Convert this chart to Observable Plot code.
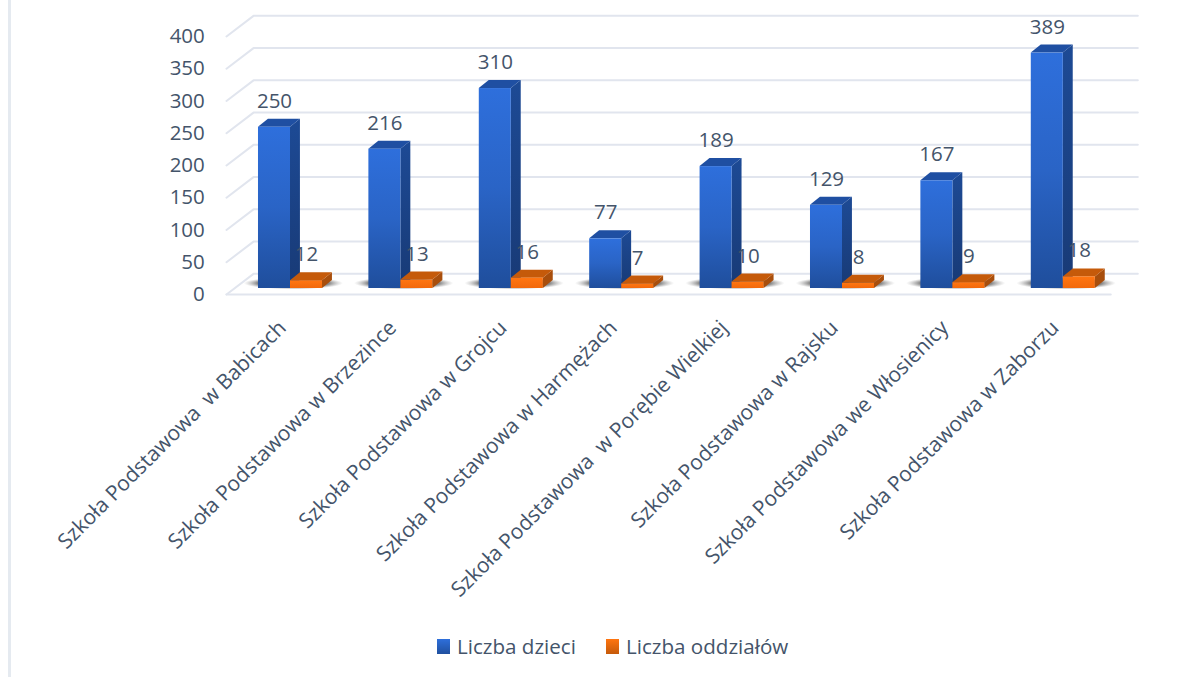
<!DOCTYPE html>
<html lang="pl">
<head>
<meta charset="utf-8">
<script src="https://cdn.jsdelivr.net/npm/d3@7"></script>
<script src="https://cdn.jsdelivr.net/npm/@observablehq/plot@0.6"></script>
<style>
  html, body { margin: 0; background: #fff; width: 1196px; height: 677px; overflow: hidden; }
  body { position: relative; font-family: "Open Sans", sans-serif; color: #44546A; }
  #edge { position: absolute; left: 8px; top: 0; bottom: 0; width: 2.5px; background: #E5EAF0; }
  #legend { display: flex; align-items: center; height: 52px; padding-left: 437px; font-size: 20.6px; box-sizing: border-box; }
  #legend .sw { width: 13px; height: 15px; margin-right: 7px; }
  #legend .lab { margin-right: 30px; }
  svg { display: block; }
</style>
</head>
<body>
<div id="edge"></div>
<div id="chart"></div>
<div id="legend">
  <span class="sw" style="background:linear-gradient(#2E6FDB,#20509F)"></span><span class="lab">Liczba dzieci</span>
  <span class="sw" style="background:linear-gradient(#FF7510,#C55A0A)"></span><span class="lab">Liczba oddziałów</span>
</div>
<script>
const categories = [
  "Szkoła Podstawowa  w Babicach",
  "Szkoła Podstawowa w Brzezince",
  "Szkoła Podstawowa w Grojcu",
  "Szkoła Podstawowa w Harmężach",
  "Szkoła Podstawowa  w Porębie Wielkiej",
  "Szkoła Podstawowa w Rajsku",
  "Szkoła Podstawowa we Włosienicy",
  "Szkoła Podstawowa w Zaborzu"
];
// Printed data labels
const dzieciLabels = [250, 216, 310, 77, 189, 129, 167, 389];
const oddzialyLabels = [12, 13, 16, 7, 10, 8, 9, 18];
// Heights as drawn in the picture (the last blue column stops near 365 although it is labelled 389)
const dzieciHeights = [250, 216, 310, 77, 189, 129, 167, 365];
const oddzialyHeights = [12, 13, 16, 7, 10, 8, 9, 18];
const yTicks = [0, 50, 100, 150, 200, 250, 300, 350, 400];

// Projection constants, in scale units
const barW = 0.29, barDX = 0.09, barDY = 12.4;
const wallDX = 0.245, frontY = -9.3, backY = 22.7, frontX0 = -0.58, frontX1 = 7.43;

function faces(heights, offset, prefix) {
  const front = [], side = [], top = [];
  heights.forEach((h, i) => {
    const a = i + offset, b = a + barW;
    front.push({ id: prefix + i, x1: a, x2: b, y1: 0, y2: h });
    side.push({ id: prefix + i, x: b, y1: 0, y2: h });
    side.push({ id: prefix + i, x: b + barDX, y1: barDY, y2: h + barDY });
    top.push({ id: prefix + i, x: a, y1: h, y2: h });
    top.push({ id: prefix + i, x: a + barDX, y1: h, y2: h + barDY });
    top.push({ id: prefix + i, x: b, y1: h, y2: h + barDY });
    top.push({ id: prefix + i, x: b + barDX, y1: h + barDY, y2: h + barDY });
  });
  return { front, side, top };
}
const blue = faces(dzieciHeights, -barW, "b");
const orange = faces(oddzialyHeights, 0, "o");

const gridRows = yTicks.flatMap(v => [
  { id: v, x: frontX0, y: v + frontY },
  { id: v, x: frontX0 + wallDX, y: v + backY },
  { id: v, x: frontX1 + wallDX, y: v + backY }
]);
const floorFront = [{ x: frontX0, y: frontY }, { x: frontX1, y: frontY }];
const shadows = categories.map((c, i) => ({ x1: i - 0.42, x2: i + 0.48, y1: -2, y2: 17 }));

function defs() {
  const grad = (id, stops) => `<linearGradient id="${id}" x1="0" y1="0" x2="0" y2="1">` +
    stops.map((s, k) => `<stop offset="${k / (stops.length - 1)}" stop-color="${s}"/>`).join("") + `</linearGradient>`;
  const g = d3.create("svg:g");
  g.html(`<defs>
    ${grad("blueFront", ["#2E6FDC", "#2A64C6", "#1F4E9C"])}
    ${grad("blueSide", ["#1D4A95", "#183A76"])}
    ${grad("orangeFront", ["#FF7612", "#F2690C"])}
    <radialGradient id="floorShadow"><stop offset="0" stop-color="#444" stop-opacity=".95"/><stop offset=".72" stop-color="#555" stop-opacity=".7"/><stop offset="1" stop-color="#999" stop-opacity="0"/></radialGradient>
  </defs>`);
  return g.node();
}

const plot = Plot.plot({
  width: 1196,
  height: 620,
  marginLeft: 234.8,
  marginRight: 78,
  marginTop: 30,
  marginBottom: 332,
  x: { domain: [-0.5, 7.5] },
  y: { domain: [0, 400] },
  style: { fontFamily: "Open Sans", color: "#44546A", background: "transparent", overflow: "visible" },
  marks: [
    defs,
    Plot.line(gridRows, { x: "x", y: "y", z: "id", stroke: "#E1E5EE", strokeWidth: 2 }),
    Plot.line(floorFront, { x: "x", y: "y", stroke: "#E1E5EE", strokeWidth: 2 }),
    Plot.rect(shadows, { x1: "x1", x2: "x2", y1: "y1", y2: "y2", fill: "url(#floorShadow)" }),

    Plot.area(blue.side, { x1: "x", y1: "y1", y2: "y2", z: "id", fill: "url(#blueSide)" }),
    Plot.area(blue.top, { x1: "x", y1: "y1", y2: "y2", z: "id", fill: "#1F4FA2" }),
    Plot.rect(blue.front, { x1: "x1", x2: "x2", y1: "y1", y2: "y2", fill: "url(#blueFront)", inset: 0 }),

    Plot.area(orange.side, { x1: "x", y1: "y1", y2: "y2", z: "id", fill: "#A84E0C" }),
    Plot.area(orange.top, { x1: "x", y1: "y1", y2: "y2", z: "id", fill: "#C55A0A" }),
    Plot.rect(orange.front, { x1: "x1", x2: "x2", y1: "y1", y2: "y2", fill: "url(#orangeFront)", inset: 0 }),

    Plot.text(categories.map((c, i) => i), {
      x: i => i - barW / 2, y: i => dzieciHeights[i], text: i => String(dzieciLabels[i]),
      dy: -26, fontSize: 20.5, fill: "#44546A"
    }),
    Plot.text(categories.map((c, i) => i), {
      x: i => i + barW / 2, y: i => oddzialyHeights[i], text: i => String(oddzialyLabels[i]),
      dy: -26, fontSize: 20.5, fill: "#44546A"
    }),

    Plot.axisY({ ticks: yTicks, tickSize: 0, dx: -28.5, dy: 6, fontSize: 20.5, label: null, tickPadding: 2, color: "#44546A" }),
    Plot.axisX({
      ticks: categories.map((c, i) => i),
      tickFormat: i => categories[i],
      tickRotate: -45, tickSize: 0, fontSize: 21, label: null, dx: -8, dy: 24, color: "#44546A"
    })
  ]
});
document.getElementById("chart").append(plot);
</script>
</body>
</html>
